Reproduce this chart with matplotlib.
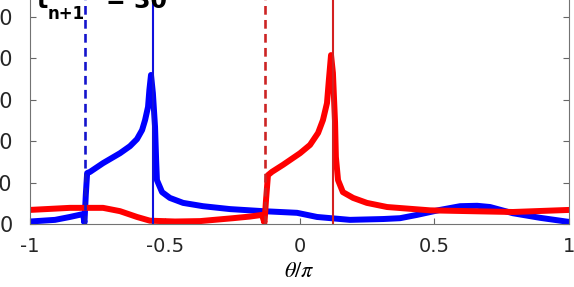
import numpy as np
import matplotlib.pyplot as plt

plt.rcParams['axes.unicode_minus'] = False

# blue curve
blue_x = [-1.0, -0.907, -0.852, -0.803, -0.798, -0.793, -0.788, -0.777, -0.729, -0.666,
          -0.629, -0.603, -0.584, -0.573, -0.562, -0.557, -0.551, -0.544, -0.536, -0.532,
          -0.529, -0.510, -0.481, -0.432, -0.358, -0.258, -0.135, -0.009, 0.065, 0.187,
          0.310, 0.373, 0.436, 0.521, 0.596, 0.659, 0.707, 0.792, 0.892, 1.0]
blue_y = [0.6, 1.0, 1.7, 2.4, 0.3, 7.0, 12.3, 12.6, 14.7, 17.1,
          18.8, 20.5, 22.7, 25.1, 28.3, 32.4, 36.0, 31.6, 23.4, 15.5,
          10.6, 7.7, 6.3, 5.1, 4.3, 3.6, 3.1, 2.7, 1.7, 1.0,
          1.2, 1.4, 2.2, 3.4, 4.3, 4.4, 4.1, 2.6, 1.5, 0.5]

# red curve
red_x = [-1.0, -0.852, -0.729, -0.666, -0.603, -0.555, -0.462, -0.369, -0.247, -0.184,
         -0.139, -0.130, -0.124, -0.117, -0.102, -0.061, 0.002, 0.039, 0.069, 0.087,
         0.102, 0.109, 0.117, 0.124, 0.132, 0.135, 0.143, 0.161, 0.199, 0.250,
         0.325, 0.484, 0.633, 0.792, 1.0]
red_y = [3.4, 3.9, 3.9, 3.1, 1.7, 0.8, 0.6, 0.7, 1.4, 1.8,
         2.2, 0.3, 6.0, 11.8, 12.6, 14.3, 17.1, 19.1, 22.0, 25.1,
         29.2, 34.8, 40.8, 36.5, 24.4, 16.2, 10.6, 7.7, 6.3, 5.1,
         4.1, 3.3, 3.1, 2.9, 3.4]

# front positions
blue_old, blue_new = -0.796, -0.545
red_old, red_new = -0.128, 0.124

t_label = '30'

xticks = [-1, -0.5, 0, 0.5, 1]
xticklabels = ['-1', '-0.5', '0', '0.5', '1']
yticks = [0, 10, 20, 30, 40, 50]

fig = plt.figure(figsize=(5.74, 2.87), dpi=100)
ax = fig.add_axes([30/574, 63/287, 539/574, 224/287])

ax.plot(blue_x, blue_y, color=(0, 0, 1), linewidth=4.3, solid_joinstyle='round')
ax.plot(red_x, red_y, color=(1, 0, 0), linewidth=4.3, solid_joinstyle='round')

ax.axvline(blue_old, color='#1414cc', linewidth=1.9, linestyle=(0, (3.3, 2.0)))
ax.axvline(blue_new, color='#1010dd', linewidth=1.5)
ax.axvline(red_old, color='#cc2424', linewidth=1.9, linestyle=(0, (3.3, 2.0)))
ax.axvline(red_new, color='#d42020', linewidth=1.5)

ax.set_xlim(-1, 1)
ax.set_ylim(0, 224/4.14)
ax.set_xticks(xticks)
ax.set_xticklabels(xticklabels)
ax.set_yticks(yticks)
ax.tick_params(direction='in', length=4, width=0.8, color='0.4',
               labelsize=14, labelcolor='0.15')
ax.tick_params(axis='x', pad=9)
ax.tick_params(axis='y', pad=12.5, right=True, labelsize=15)
for s in ['left', 'right', 'bottom']:
    ax.spines[s].set_color('0.45')
    ax.spines[s].set_linewidth(0.8)
ax.spines['top'].set_visible(False)

ax.set_xlabel(r'$\theta/\pi$', fontsize=16, labelpad=4)
ax.xaxis.label.set_math_fontfamily('stix')

# time label: t with a large subscript, MATLAB style
anchor = (-0.974, 52.2)
ax.annotate('t', anchor, fontsize=17, fontweight='bold', va='baseline', ha='left')
ax.annotate('n+1', anchor, xytext=(8, -8), textcoords='offset points',
            fontsize=12, fontweight='bold', va='baseline', ha='left')
ax.annotate('= ' + t_label, anchor, xytext=(50, 0), textcoords='offset points',
            fontsize=17, fontweight='bold', va='baseline', ha='left')

fig.savefig('out.png', dpi=100)
